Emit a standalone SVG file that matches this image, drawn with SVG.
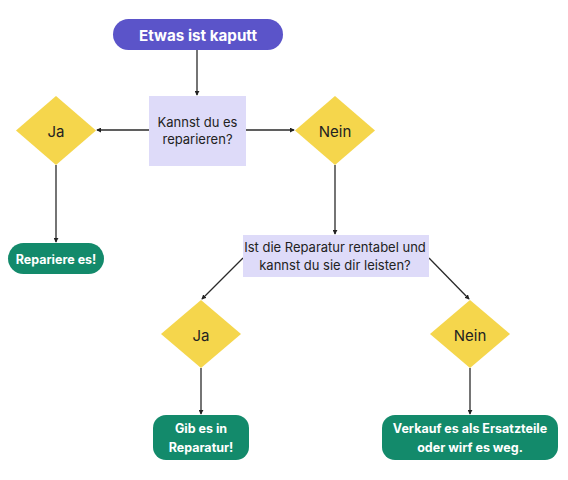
<svg xmlns="http://www.w3.org/2000/svg" width="568" height="480" viewBox="0 0 568 480">
<defs>
<marker id="ah" viewBox="0 0 6 6" refX="5" refY="3" markerWidth="5" markerHeight="5" orient="auto" markerUnits="userSpaceOnUse">
<path d="M0,0 L6,3 L0,6 z" fill="#222"/>
</marker>
<style>
.t{font-family:Inter,"Noto Sans",sans-serif;text-anchor:middle;dominant-baseline:central}
.q{font-size:13px;fill:#222}
.d{fill:#f5d64c}
.dt{font-size:15px;fill:#222}
.g{fill:#138a6b}
.gt{font-size:12.5px;font-weight:700;fill:#fff}
.b{fill:#dedbf9}
.c{stroke:#2a2a2a;stroke-width:1.3;fill:none;marker-end:url(#ah)}
</style>
</defs>
<rect width="568" height="480" fill="#fff"/>
<g id="connectors">
<line class="c" x1="197" y1="50" x2="197" y2="95"/>
<line class="c" x1="149" y1="130" x2="97" y2="130"/>
<line class="c" x1="246" y1="130" x2="294" y2="130"/>
<line class="c" x1="56" y1="165" x2="56" y2="242"/>
<line class="c" x1="335" y1="165" x2="335" y2="234"/>
<line class="c" x1="243" y1="258" x2="202" y2="299"/>
<line class="c" x1="429" y1="258" x2="469" y2="299"/>
<line class="c" x1="201" y1="368" x2="201" y2="414"/>
<line class="c" x1="470" y1="368" x2="470" y2="414"/>
</g>
<g id="start">
<rect x="113" y="19" width="170" height="31" rx="15.5" fill="#5b54c9"/>
<text class="t" x="198" y="35" style="font-size:15.2px;font-weight:700;fill:#fff">Etwas ist kaputt</text>
</g>
<g id="q1">
<rect class="b" x="149" y="96" width="97" height="70"/>
<text class="t q" x="197.5" y="122">Kannst du es</text>
<text class="t q" x="197.5" y="139">reparieren?</text>
</g>
<g id="ja1">
<polygon class="d" points="56,96 96,130.5 56,165 16,130.5"/>
<text class="t dt" x="56" y="131">Ja</text>
</g>
<g id="nein1">
<polygon class="d" points="335,96 375,130.5 335,165 295,130.5"/>
<text class="t dt" x="335" y="131">Nein</text>
</g>
<g id="repariere">
<rect class="g" x="8" y="243" width="96" height="31" rx="15.5"/>
<text class="t gt" x="56" y="259">Repariere es!</text>
</g>
<g id="q2">
<rect class="b" x="243" y="235" width="186" height="42"/>
<text class="t q" x="335" y="247">Ist die Reparatur rentabel und</text>
<text class="t q" x="335" y="265">kannst du sie dir leisten?</text>
</g>
<g id="ja2">
<polygon class="d" points="201,300 241,334 201,368 161,334"/>
<text class="t dt" x="201" y="335">Ja</text>
</g>
<g id="nein2">
<polygon class="d" points="470,300 510,334 470,368 430,334"/>
<text class="t dt" x="470" y="335">Nein</text>
</g>
<g id="gib">
<rect class="g" x="153" y="415" width="96" height="45" rx="13"/>
<text class="t gt" x="201" y="428">Gib es in</text>
<text class="t gt" x="201" y="447">Reparatur!</text>
</g>
<g id="verkauf">
<rect class="g" x="382" y="415" width="176" height="45" rx="13"/>
<text class="t gt" x="470" y="428">Verkauf es als Ersatzteile</text>
<text class="t gt" x="470" y="447">oder wirf es weg.</text>
</g>
</svg>
